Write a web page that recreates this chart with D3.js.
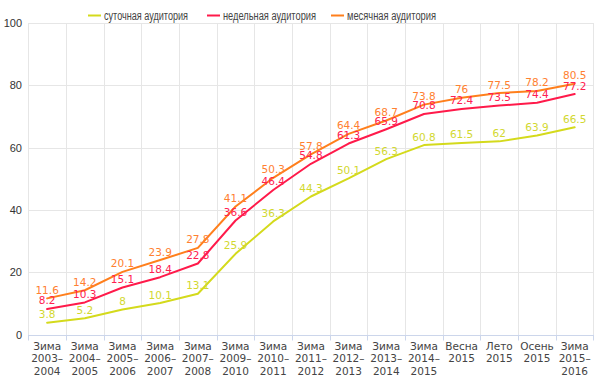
<!DOCTYPE html>
<html><head><meta charset="utf-8">
<script src="https://cdnjs.cloudflare.com/ajax/libs/d3/7.8.5/d3.min.js"></script>
<style>body{margin:0;background:#fff}svg{display:block}</style>
</head><body><svg id="c" width="600" height="381"></svg>
<script>
const categories = [["Зима","2003–","2004"],["Зима","2004–","2005"],["Зима","2005–","2006"],["Зима","2006–","2007"],["Зима","2007–","2008"],["Зима","2009–","2010"],["Зима","2010–","2011"],["Зима","2011–","2012"],["Зима","2012–","2013"],["Зима","2013–","2014"],["Зима","2014–","2015"],["Весна","2015"],["Лето","2015"],["Осень","2015"],["Зима","2015–","2016"]];
const daily = [3.8,5.2,8,10.1,13.1,25.9,36.3,44.3,50.1,56.3,60.8,61.5,62,63.9,66.5];
const weekly = [8.2,10.3,15.1,18.4,22.8,36.6,46.4,54.8,61.3,65.9,70.8,72.4,73.5,74.4,77.2];
const monthly = [11.6,14.2,20.1,23.9,27.8,41.1,50.3,57.8,64.4,68.7,73.8,76,77.5,78.2,80.5];
const seriesNames = ["суточная аудитория","недельная аудитория","месячная аудитория"];
const yTicks = [0,20,40,60,80,100];

(function(){
const colors = ["#d4da1c","#ff1a4a","#ff7f1c"];
const labelColors = ["#d2d830","#ff2050","#ff8030"];
const series = [daily, weekly, monthly];

const svg = d3.select("#c");
const mLeft = 28.3, mRight = 593.5, mTop = 23, mBottom = 334.5;
const x = d3.scaleBand().domain(d3.range(categories.length)).range([mLeft, mRight]);
const y = d3.scaleLinear().domain([0,100]).range([mBottom, mTop]);

svg.append("g").selectAll("line").data(yTicks).join("line")
  .attr("x1", mLeft).attr("x2", mRight)
  .attr("y1", d=>Math.round(y(d))+0.5).attr("y2", d=>Math.round(y(d))+0.5)
  .attr("stroke", d=> d===0 ? "none" : "#e6e6e6").attr("stroke-width",1);
const bounds = d3.range(categories.length+1).map(i => i<categories.length ? x(i) : x(categories.length-1)+x.bandwidth());
svg.append("g").selectAll("line").data(bounds).join("line")
  .attr("x1", d=>Math.round(d)+0.5).attr("x2", d=>Math.round(d)+0.5)
  .attr("y1", mTop).attr("y2", mBottom)
  .attr("stroke", "#e6e6e6");
svg.append("line").attr("x1", mLeft).attr("x2", mRight)
  .attr("y1", Math.round(mBottom)+0.5).attr("y2", Math.round(mBottom)+0.5)
  .attr("stroke", "#ccd6eb");
svg.append("g").selectAll("line").data(bounds).join("line")
  .attr("x1", d=>Math.round(d)+0.5).attr("x2", d=>Math.round(d)+0.5)
  .attr("y1", mBottom).attr("y2", mBottom+6)
  .attr("stroke", "#ccd6eb");

svg.append("g").selectAll("text").data(yTicks).join("text")
  .attr("x", 22).attr("y", d=>y(d)+4)
  .attr("text-anchor","end")
  .attr("font-family","'Liberation Sans', Arial, sans-serif")
  .attr("font-size", 11).attr("fill","#333")
  .text(d=>d);

const xl = svg.append("g").selectAll("text").data(categories).join("text")
  .attr("text-anchor","middle")
  .attr("font-family","'DejaVu Sans', Verdana, sans-serif")
  .attr("font-size", 10.5).attr("fill","#444");
xl.each(function(d,i){
  const t = d3.select(this);
  d.forEach((s,j)=>{
    t.append("tspan").attr("x", x(i)+x.bandwidth()/2).attr("y", 349.5 + j*12.7).text(s);
  });
});

const line = d3.line().x((d,i)=>x(i)+x.bandwidth()/2).y(d=>y(d));
series.forEach((s,k)=>{
  svg.append("path").attr("d", line(s)).attr("fill","none")
    .attr("stroke", colors[k]).attr("stroke-width", 2).attr("stroke-linejoin","round").attr("stroke-linecap","round");
});
series.forEach((s,k)=>{
  svg.append("g").selectAll("text").data(s).join("text")
    .attr("x",(d,i)=>x(i)+x.bandwidth()/2).attr("y", d=>y(d)-4.5)
    .attr("text-anchor","middle")
    .attr("font-family","'DejaVu Sans', Verdana, sans-serif")
    .attr("font-size", 10.5).attr("fill", labelColors[k])
    .text(d=>d);
});

const legX = [88, 207, 331];
const legW = [84, 93, 89];
seriesNames.forEach((n,k)=>{
  svg.append("line").attr("x1", legX[k]).attr("x2", legX[k]+13).attr("y1", 15.5).attr("y2", 15.5)
    .attr("stroke", colors[k]).attr("stroke-width", 2);
  svg.append("text").attr("x", legX[k]+16).attr("y", 19.5)
    .attr("font-family","'Liberation Sans', Arial, sans-serif")
    .attr("font-size", 12).attr("fill","#444")
    .attr("textLength", legW[k]).attr("lengthAdjust","spacingAndGlyphs").text(n);
});
})();
</script></body></html>
